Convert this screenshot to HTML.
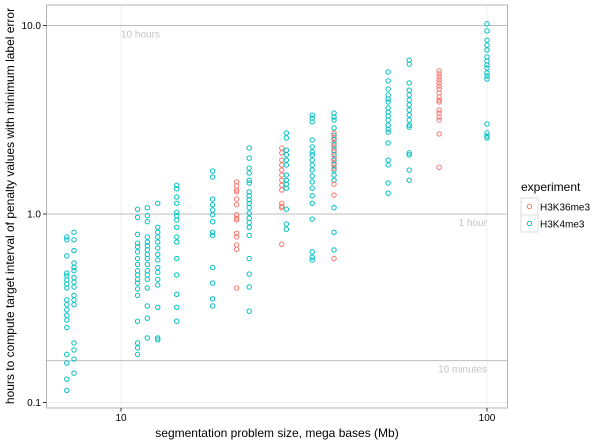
<!DOCTYPE html>
<html><head><meta charset="utf-8"><style>
body{margin:0;background:#fff;}
svg{display:block;font-family:"Liberation Sans",sans-serif;}
</style></head><body>
<svg id="chart" width="609" height="443" viewBox="0 0 609 443">
<rect x="0" y="0" width="609" height="443" fill="#fff"/>
<g id="grid"></g>
<g id="annot"></g>
<g id="pts"></g>
<rect x="46.5" y="5" width="461" height="403" fill="none" stroke="#b3b3b3" stroke-width="1"/>
<g id="axes"></g>
<text x="277" y="437" font-size="12" text-anchor="middle" fill="#000">segmentation problem size, mega bases (Mb)</text>
<text transform="translate(14,206) rotate(-90)" font-size="12" text-anchor="middle" fill="#000">hours to compute target interval of penalty values with minimum label error</text>
<g>
<text x="521" y="191" font-size="12" fill="#000">experiment</text>
<rect x="521" y="198" width="17" height="17" fill="#fff" stroke="#ddd"/>
<circle cx="529.5" cy="206.5" r="2.2" fill="none" stroke="#F8766D" stroke-width="1"/>
<text x="540" y="210.5" font-size="10" fill="#000">H3K36me3</text>
<rect x="521" y="215" width="17" height="17" fill="#fff" stroke="#ddd"/>
<circle cx="529.5" cy="223.5" r="2.2" fill="none" stroke="#00BFC4" stroke-width="1"/>
<text x="540" y="227.5" font-size="10" fill="#000">H3K4me3</text>
</g>
</svg>
<script>
const yTicks=[0.1,1.0,10.0];
const yTickLabels=["0.1","1.0","10.0"];
const xTicks=[10,100];
const xTickLabels=["10","100"];
const refValues=[10,1,1/6];
const refLabels=["10 hours","1 hour","10 minutes"];
const colSizes=[7.11,7.44,11.1,11.8,12.6,14.2,17.8,20.7,22.4,27.5,28.3,33.3,38.2,38.2,53.7,61.3,74.0,100];
const colExperiment=["H3K4me3","H3K4me3","H3K4me3","H3K4me3","H3K4me3","H3K4me3","H3K4me3","H3K36me3","H3K4me3","H3K36me3","H3K4me3","H3K4me3","H3K4me3","H3K36me3","H3K4me3","H3K4me3","H3K36me3","H3K4me3"];
const colHours=[
[0.755,0.73,0.6,0.486,0.47,0.446,0.425,0.405,0.35,0.33,0.31,0.29,0.274,0.25,0.18,0.162,0.133,0.116],
[0.80,0.73,0.64,0.55,0.52,0.50,0.46,0.435,0.41,0.37,0.35,0.33,0.207,0.19,0.17,0.143],
[1.06,0.96,0.78,0.70,0.67,0.63,0.58,0.54,0.50,0.475,0.45,0.43,0.40,0.37,0.27,0.207,0.195,0.18],
[1.08,0.98,0.91,0.755,0.71,0.68,0.645,0.61,0.58,0.54,0.50,0.475,0.45,0.405,0.325,0.28,0.22],
[1.14,0.85,0.80,0.755,0.71,0.66,0.61,0.57,0.52,0.49,0.45,0.42,0.32,0.22,0.215],
[1.42,1.36,1.23,1.14,1.02,0.98,0.93,0.85,0.755,0.71,0.58,0.475,0.375,0.32,0.27],
[1.69,1.57,1.20,1.12,1.05,0.99,0.91,0.80,0.77,0.52,0.43,0.355,0.325],
[1.48,1.41,1.34,1.31,1.20,1.12,0.99,0.95,0.93,0.79,0.755,0.685,0.65,0.405],
[2.24,1.98,1.75,1.65,1.51,1.46,1.31,1.25,1.19,1.14,1.08,1.01,0.95,0.90,0.85,0.77,0.58,0.48,0.41,0.305],
[2.24,2.11,1.93,1.82,1.71,1.61,1.51,1.42,1.34,1.14,1.10,1.08,0.69],
[2.69,2.53,2.18,2.06,1.93,1.82,1.61,1.51,1.44,1.37,1.06,0.885,0.83],
[3.35,3.23,3.08,2.47,2.27,2.13,2.06,1.93,1.82,1.71,1.59,1.48,1.37,1.25,1.14,0.94,0.63,0.59,0.57],
[3.43,3.27,3.15,2.86,2.62,2.47,2.32,2.18,2.06,1.93,1.82,1.71,1.61,1.51,1.08,0.80,0.645],
[2.69,2.53,2.38,2.24,2.13,1.98,1.86,1.75,1.44,1.26,0.58],
[5.67,5.08,4.6,4.28,4.07,3.93,3.65,3.47,3.31,3.15,2.96,2.82,2.72,2.38,1.93,1.82,1.46,1.29],
[6.55,6.24,4.96,4.54,4.28,4.02,3.79,3.56,3.35,3.15,2.96,2.89,2.11,2.06,1.71,1.51],
[5.74,5.53,5.33,5.14,4.96,4.77,4.6,4.39,4.17,4.02,3.93,3.56,3.43,3.27,3.15,2.66,1.77],
[10.2,9.36,8.36,7.87,7.42,6.81,6.49,6.18,5.95,5.6,5.4,5.2,3.0,2.69,2.59,2.53]
];
const NS="http://www.w3.org/2000/svg";
const PX0=121,PXD=366,PY0=214,PYD=188.5;
function xs(v){return PX0+(Math.log10(v)-1)*PXD;}
function ys(v){return PY0-Math.log10(v)*PYD;}
function mk(tag,attrs,parent){const e=document.createElementNS(NS,tag);for(const k in attrs)e.setAttribute(k,attrs[k]);parent.appendChild(e);return e;}
const grid=document.getElementById('grid'),annot=document.getElementById('annot'),pts=document.getElementById('pts'),axes=document.getElementById('axes');
yTicks.forEach((t,i)=>{
 const l=mk('line',{x1:46.5,x2:507.5,y1:ys(t),y2:ys(t),stroke:'#ebebeb','stroke-width':0.8},grid);
 
 
 const tk=mk('line',{x1:43,x2:46.5,y1:ys(t),y2:ys(t),stroke:'#333'},axes);
 
 
 const tx=mk('text',{x:41,y:ys(t)+3.5,'font-size':10,'text-anchor':'end',fill:'#000'},axes);
 tx.textContent=yTickLabels[i];
 
 
});
xTicks.forEach((t,i)=>{
 const l=mk('line',{x1:xs(t),x2:xs(t),y1:5,y2:408,stroke:'#ebebeb','stroke-width':0.8},grid);
 
 
 const tk=mk('line',{x1:xs(t),x2:xs(t),y1:408,y2:411.5,stroke:'#333'},axes);
 
 
 const tx=mk('text',{x:xs(t),y:421,'font-size':10,'text-anchor':'middle',fill:'#000'},axes);
 tx.textContent=xTickLabels[i];
 
 
});
refValues.forEach((v,i)=>{
 const l=mk('line',{x1:46.5,x2:507.5,y1:ys(v),y2:ys(v),stroke:'#bdbdbd','stroke-width':1},annot);
 
 
 const anchor=i===0?'start':'end';
 const x=i===0?xs(10):xs(100);
 const tx=mk('text',{x:x,y:ys(v)+12,'font-size':10,'text-anchor':anchor,fill:'#c4c4c4'},annot);
 tx.textContent=refLabels[i];
 
 
});
colHours.forEach((arr,ci)=>{
 const col=colExperiment[ci]==='H3K36me3'?'#F8766D':'#00BFC4';
 arr.forEach(h=>{
  const c=mk('circle',{cx:xs(colSizes[ci]),cy:ys(h),r:2.2,fill:'none',stroke:col,'stroke-width':1},pts);
  
  
 });
});
</script>
</body></html>
